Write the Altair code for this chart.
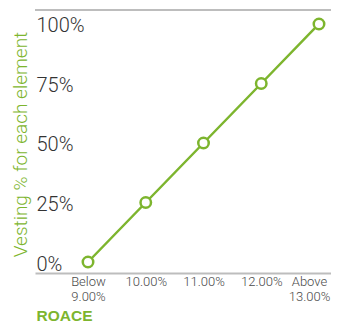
import altair as alt
import pandas as pd

categories = ["Below 9.00%", "10.00%", "11.00%", "12.00%", "Above 13.00%"]
label_lines = [["Below", "9.00%"], ["10.00%"], ["11.00%"], ["12.00%"], ["Above", "13.00%"]]
vesting = [0, 25, 50, 75, 100]
y_ticks = [0, 25, 50, 75, 100]

GREEN = "#7db52e"
GRAY = "#bdbdbd"
FONT = "Roboto"

df = pd.DataFrame({"idx": list(range(len(categories))), "category": categories, "vesting": vesting})

expr = ""
for i, lines in enumerate(label_lines):
    arr = "[" + ",".join("'" + s + "'" for s in lines) + "]"
    expr += f"datum.value == {i} ? {arr} : "
expr += "''"

W, H = 296, 263

x = alt.X(
    "idx:Q",
    scale=alt.Scale(domain=[-0.918, 4.208], nice=False, zero=False),
    axis=alt.Axis(
        values=list(range(len(categories))),
        labelExpr=expr,
        grid=False,
        ticks=False,
        domainColor=GRAY,
        domainWidth=2,
        labelFont=FONT,
        labelFontSize=13,
        labelFontWeight=300,
        labelColor="#4a4a4a",
        labelBaseline="top",
        labelPadding=2,
        labelLineHeight=15.5,
        labelAlign="center",
        labelOffset={"condition": {"test": "datum.value == 4", "value": -10}, "value": 0},
        labelFlush=False,
        labelOverlap=False,
        title="ROACE",
        titleFont="Liberation Sans",
        titleFontSize=15.5,
        titleFontWeight="bold",
        titleColor=GREEN,
        titleAnchor="start",
        titleAlign="left",
        titleBaseline="alphabetic",
        titleX=1,
        titleY=47,
    ),
)

y = alt.Y(
    "vesting:Q",
    scale=alt.Scale(domain=[-4.62, 105.88], nice=False, zero=False),
    axis=alt.Axis(
        values=y_ticks,
        labelExpr="datum.value + '%'",
        grid=False,
        ticks=False,
        domain=False,
        labelAlign="left",
        labelPadding=-1,
        labelFont=FONT,
        labelFontSize=20,
        labelFontWeight=300,
        labelColor="#333333",
        labelBaseline="middle",
        labelOffset=2,
        title="Vesting % for each element",
        titleFont=FONT,
        titleFontSize=19,
        titleFontWeight=300,
        titleColor=GREEN,
        titleBaseline="alphabetic",
        titleX=-9,
        titleY=134,
        titleAngle=270,
    ),
)

base = alt.Chart(df)

line = base.mark_line(color=GREEN, strokeWidth=2.5).encode(x=x, y=y)
points = base.mark_point(
    shape="circle", size=110, filled=True, fill="white", stroke=GREEN, strokeWidth=2.5, opacity=1
).encode(x=x, y=y)

top_rule = alt.Chart(pd.DataFrame({"a": [0]})).mark_rule(color=GRAY, strokeWidth=2).encode(
    x=alt.value(0), x2=alt.value(W), y=alt.value(0)
)

chart = alt.layer(top_rule, line, points).properties(
    width=W,
    height=H,
    background="white",
    autosize=alt.AutoSizeParams(type="none"),
    padding={"left": 27, "top": 2, "right": 0, "bottom": 51},
).configure_view(stroke=None)

chart.save("out.html", embed_options={"renderer": "svg", "actions": False})
